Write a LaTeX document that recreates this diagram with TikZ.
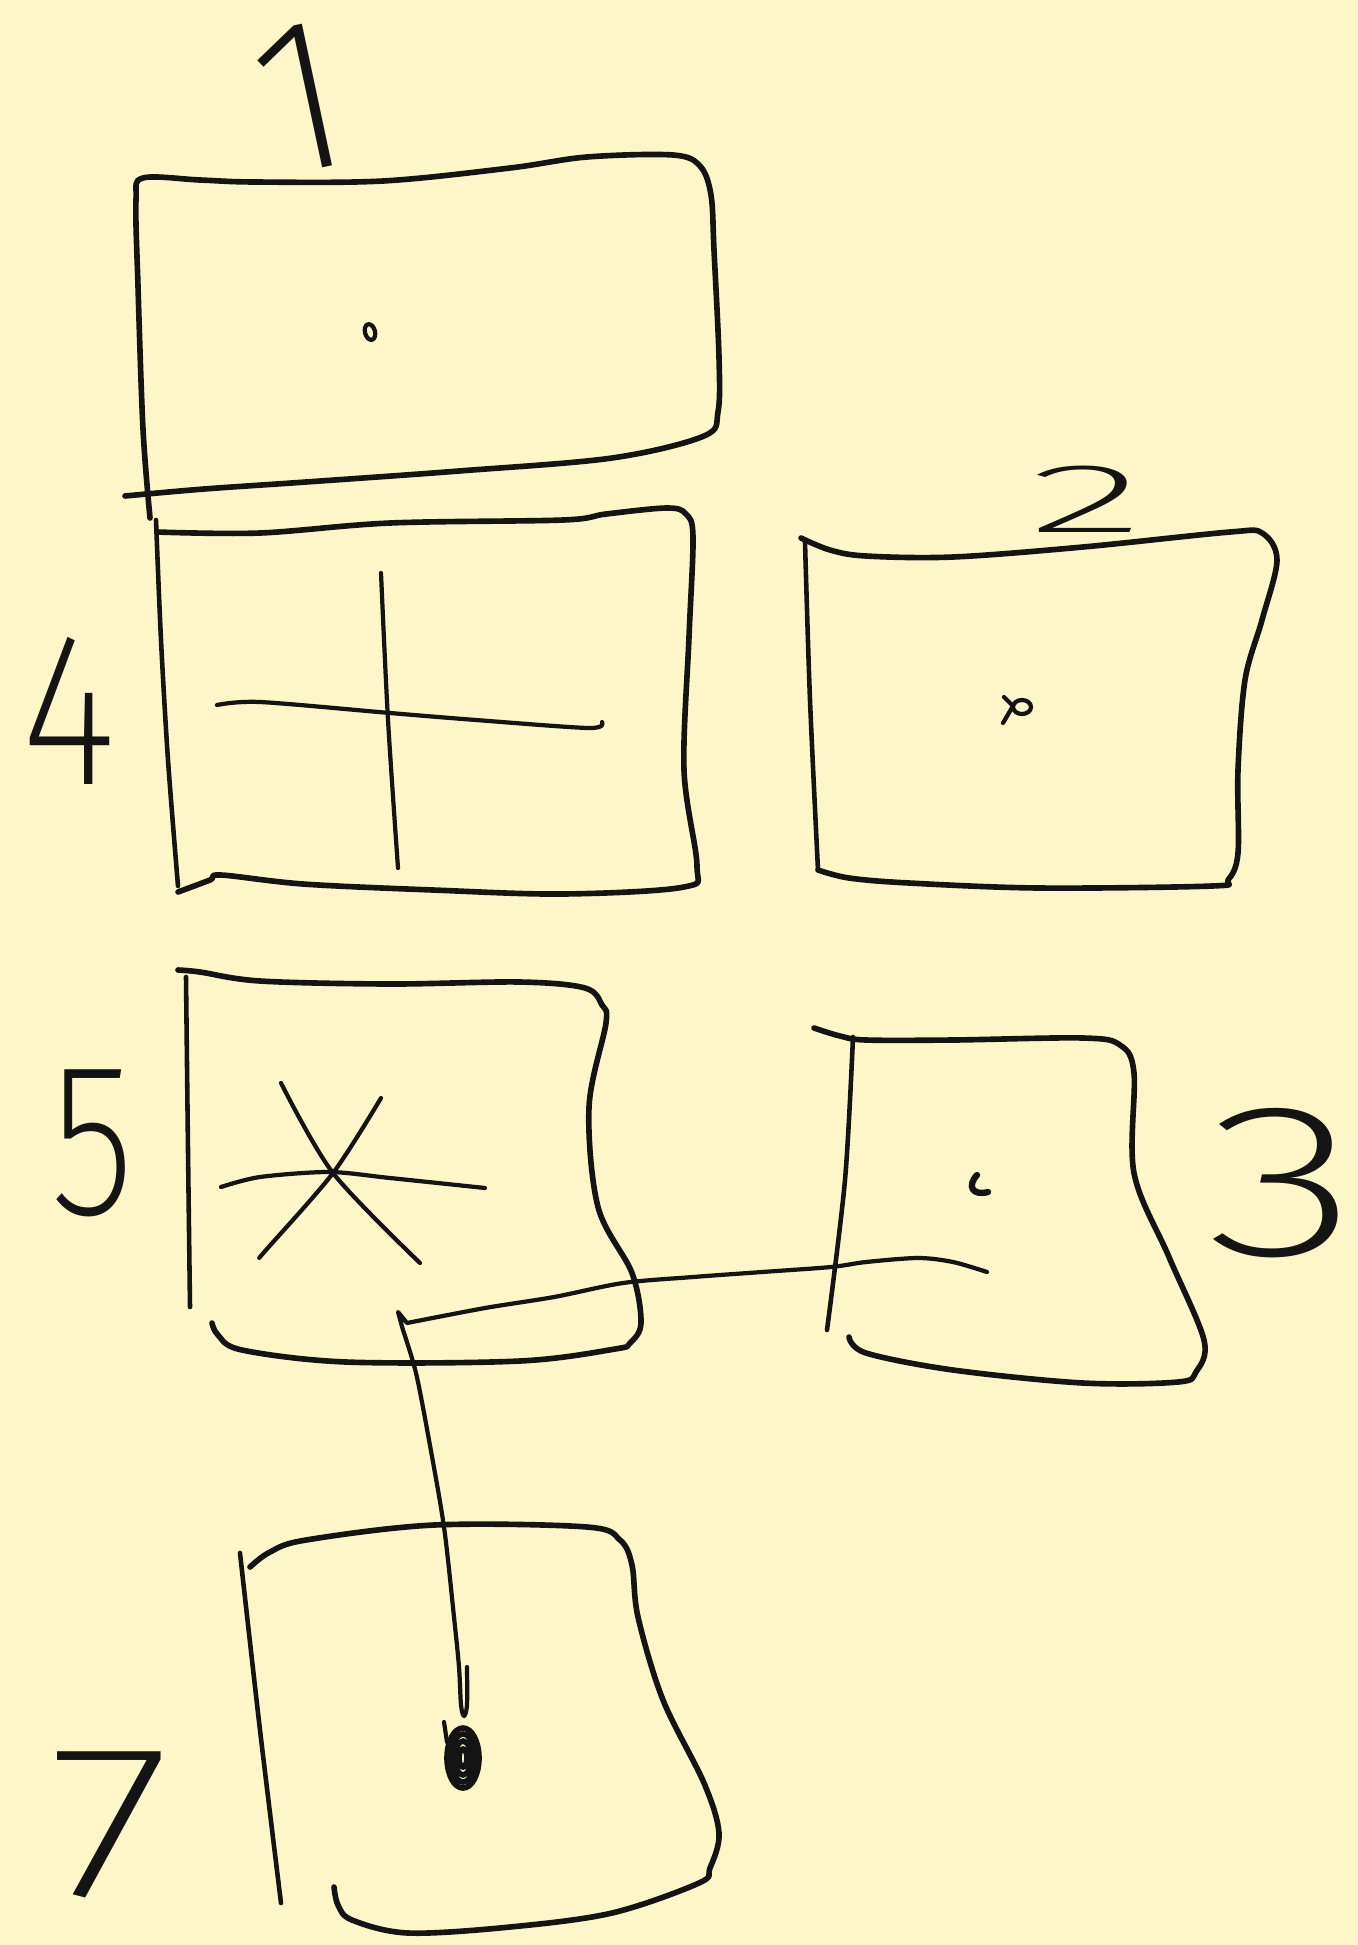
\documentclass[tikz,border=0pt]{standalone}
\usepackage{fontspec}
\def\handname{Fira Sans}
\IfFontExistsTF{Fira Sans ExtraLight}{\def\handname{Fira Sans ExtraLight}}{%
  \IfFontExistsTF{Fira Sans Thin}{\def\handname{Fira Sans Thin}}{%
    \IfFontExistsTF{Fira Sans Light}{\def\handname{Fira Sans Light}}{}}}
\newfontfamily\handfont{\handname}
\newfontfamily\handtwo[FakeStretch=2.5]{\handname}
\newfontfamily\handthree[FakeStretch=1.45]{\handname}
\newfontfamily\handfour[FakeStretch=0.85]{\handname}
\newfontfamily\handfive[FakeStretch=0.8]{\handname}
\newfontfamily\handseven[FakeStretch=1.3]{\handname}
\definecolor{paper}{RGB}{252,246,201}
\definecolor{ink}{RGB}{20,20,20}

\begin{document}
\begin{tikzpicture}[
    x=0.01cm, y=-0.01cm,
    every node/.style={text=ink, inner sep=0pt},
    outline/.style={
        draw=ink,
        line width=1.6pt,
        line cap=round,
        line join=round,
    },
    sideline/.style={
        draw=ink,
        line width=1.3pt,
        line cap=round,
    },
    stroke/.style={
        draw=ink,
        line width=1.2pt,
        line cap=round,
        line join=round,
    },
    numlabel/.style={
        font=\handfont\fontsize{62}{62}\selectfont,
        anchor=center,
    },
]

% Paper
\useasboundingbox (0,0) rectangle (1358,1945);
\fill[paper] (0,0) rectangle (1358,1945);

% --- Box 1 ---
\draw[outline] plot[smooth, tension=0.55] coordinates {
    (150,518) (143,429) (138,286) (136,200) (143,178) (200,180) (255,182)
    (383,181) (510,168) (587,157) (673,155) (700,166) (711,195) (714,250)
    (719,357) (718,412) (704,436) (612,458) (459,471) (306,482) (204,489) (125,496)};
\draw[stroke, rotate around={15:(370,332)}] (370,332) ellipse [x radius=5, y radius=8];
\node[numlabel, rotate=12] (L1) at (301,98) {1};

% --- Box 4 ---
\draw[sideline] plot[smooth] coordinates {(156,520) (161,640) (168,760) (178,886)};
\draw[outline] plot[smooth, tension=0.55] coordinates {
    (157,532) (260,533) (390,523) (563,520) (606,514) (667,508) (686,514)
    (693,537) (689,637) (684,770) (697,866) (684,887) (563,894) (433,890)
    (303,884) (221,875) (210,880) (178,892)};
\draw[stroke] plot[smooth] coordinates {(381,573) (388,720) (398,868)};
\draw[stroke] plot[smooth] coordinates {(217,705) (260,702) (390,713) (476,720) (589,728) (602,722)};
\node[numlabel, font=\handfour\fontsize{62}{62}\selectfont] (L4) at (69,711) {4};

% --- Box 2 ---
\draw[sideline] plot[smooth] coordinates {(805,542) (810,700) (818,870)};
\draw[outline] plot[smooth, tension=0.55] coordinates {
    (801,538) (830,550) (866,556) (953,557) (1083,547) (1230,532) (1262,533)
    (1277,560) (1262,620) (1245,680) (1238,770) (1238,853) (1228,880) (1212,886)
    (1039,888) (909,883) (849,878) (818,870)};
\draw[stroke] (1022,707) ellipse [x radius=9, y radius=7];
\draw[stroke] (1004,697) -- (1013,706) -- (1003,723);
\node[numlabel, font=\handtwo\fontsize{28}{28}\selectfont] (L2) at (1087,499) {2};

% --- Box 5 ---
\draw[sideline] plot[smooth] coordinates {(186,977) (188,1150) (190,1307)};
\draw[outline] plot[smooth, tension=0.55] coordinates {
    (178,970) (200,972) (260,981) (390,984) (520,982) (585,988) (602,1005)
    (606,1023) (589,1107) (598,1207) (632,1273) (641,1323) (630,1343) (615,1349)
    (520,1361) (346,1362) (242,1350) (218,1335) (212,1323)};
\draw[stroke] plot[smooth] coordinates {(281,1083) (333,1173) (420,1263)};
\draw[stroke] plot[smooth] coordinates {(381,1098) (333,1173) (266,1250) (260,1257)};
\draw[stroke] plot[smooth] coordinates {(221,1187) (260,1177) (329,1172) (390,1178) (485,1188)};
\node[numlabel, font=\handfive\fontsize{62}{62}\selectfont] (L5) at (93,1143) {5};

% --- Box 3 ---
\draw[sideline] plot[smooth] coordinates {(853,1037) (845,1180) (827,1330)};
\draw[outline] plot[smooth, tension=0.55] coordinates {
    (814,1028) (840,1036) (866,1040) (953,1040) (1083,1038) (1120,1045) (1134,1073)
    (1134,1173) (1169,1257) (1204,1340) (1196,1372) (1178,1382) (1083,1383)
    (953,1370) (866,1353) (849,1337)};
\draw[line width=1.8pt, draw=ink, line cap=round] (977,1175) .. controls (967,1186) and (972,1196) .. (988,1192);
\node[numlabel, font=\handthree\fontsize{62}{62}\selectfont] (L3) at (1283,1183) {3};

% --- Box 7 ---
\draw[sideline] plot[smooth] coordinates {(240,1553) (260,1730) (281,1903)};
\draw[outline] plot[smooth, tension=0.55] coordinates {
    (250,1567) (270,1552) (306,1540) (434,1525) (587,1527) (620,1540) (632,1565)
    (638,1617) (663,1700) (704,1783) (719,1833) (710,1868) (699,1883) (612,1913)
    (510,1927) (408,1933) (352,1920) (338,1905) (334,1887)};
\node[numlabel, font=\handseven\fontsize{62}{62}\selectfont] (L7) at (110,1825) {7};

% Dot in box 7
\coordinate (dot7) at (463,1758);
\foreach \rx/\ry in {16/30, 12/24, 8/17, 4/9}
    \draw[draw=ink, line width=1.6pt] (dot7) ellipse [x radius=\rx, y radius=\ry];
\draw[stroke] (447,1742) -- (444,1722);

% --- Connector from box 3 to box 7 ---
\coordinate (c3) at (987,1272);
\coordinate (c7) at (467,1667);
\draw[stroke] plot[smooth] coordinates {
    (c3) (953,1262) (918,1258) (866,1262) (831,1267) (762,1272) (693,1277)
    (623,1283) (554,1297) (485,1308) (407,1323)}
    -- (398,1312)
    -- plot[smooth] coordinates {
    (403,1330) (416,1373) (429,1440) (444,1527) (454,1617) (459,1667)
    (461,1705) (464,1716) (467,1705) (c7)};

\end{tikzpicture}
\end{document}
